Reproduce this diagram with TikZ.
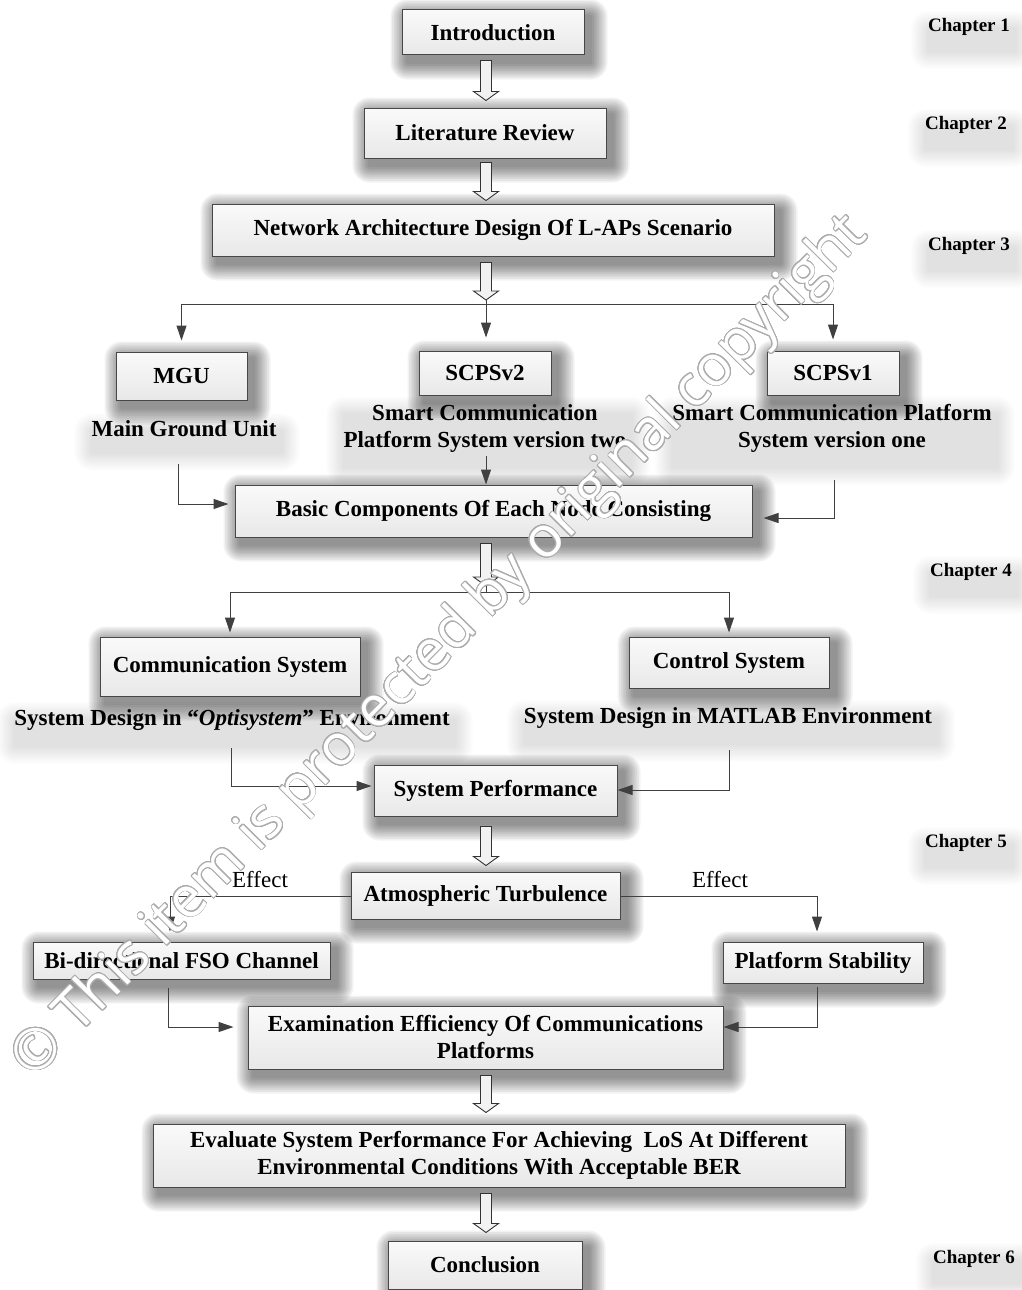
\documentclass[tikz,border=0pt]{standalone}
\usepackage{fontspec}
\setmainfont{Liberation Serif}
\newfontfamily\wmfont{Open Sans}
\usepackage[copies]{contour}
\contournumber{32}
\contourlength{0.8pt}
\usetikzlibrary{calc,arrows.meta}
\pgfdeclarelayer{bg}
\pgfdeclarelayer{shadow}
\pgfsetlayers{bg,shadow,main}
\newcommand{\mainfs}{\fontsize{23}{27}\selectfont}
\newcommand{\chapfs}{\fontsize{19}{22}\selectfont}
\newcommand{\harrow}[2]{%
  \draw[hollow] let \p1=(#1), \p2=(#2) in
   (\x1-5.5pt,\y1) -- (\x1+5.5pt,\y1) -- (\x1+5.5pt,\y2+9pt) -- (\x1+12.5pt,\y2+9pt)
   -- (\x1,\y2) -- (\x1-12.5pt,\y2+9pt) -- (\x1-5.5pt,\y2+9pt) -- cycle;}
% soft shadow: node, xshift, yshift, opacity per step, spread per step
\newcommand{\softshadow}[5]{%
  \foreach \k in {1,...,10} {%
    \pgfmathsetmacro\rr{\k*#5}%
    \fill[black, opacity=#4, rounded corners=\rr pt]
      ($(#1.north west)+(#2-\rr,#3-\rr)$) rectangle ($(#1.south east)+(#2+\rr,#3+\rr)$);
  }}
\begin{document}
\begin{tikzpicture}[x=1pt,y=-1pt,
  box/.style={draw=black!72, line width=1pt, top color=gray!4, bottom color=gray!18,
    inner sep=0pt, align=center, font=\mainfs\bfseries},
  lbl/.style={inner sep=2pt, align=center, font=\mainfs\bfseries},
  chap/.style={inner sep=2pt, font=\chapfs\bfseries},
  eff/.style={inner sep=1pt, font=\mainfs},
  conn/.style={draw=black!75, line width=1pt, -{Triangle[length=15pt,width=10pt]}},
  plain/.style={draw=black!75, line width=1pt},
  hollow/.style={draw=black!80, line width=0.9pt, fill=gray!10}]
\begin{pgfonlayer}{bg}
\fill[white] (0,0) rectangle (1021,1290);
\end{pgfonlayer}
\useasboundingbox (0,0) rectangle (1021,1290);
\coordinate (ax) at (486,0);

% boxes
\node[box, minimum width=182pt, minimum height=45pt] (intro) at (493,32.5) {Introduction};
\node[box, minimum width=242pt, minimum height=50pt] (lit) at (485,133) {Literature Review};
\node[box, minimum width=562pt, minimum height=52pt] (net) at (493,230) {Network Architecture Design Of L-APs Scenario};
\node[box, minimum width=131pt, minimum height=48pt] (mgu) at (181.5,376) {MGU};
\node[box, minimum width=132pt, minimum height=44pt] (scps2) at (485,373) {SCPSv2};
\node[box, minimum width=132pt, minimum height=44pt] (scps1) at (833,373) {SCPSv1};
\node[box, minimum width=517pt, minimum height=52pt] (basic) at (493.5,511) {Basic Components Of Each Node Consisting};
\node[box, minimum width=260pt, minimum height=59pt] (comm) at (230,666.5) {Communication System};
\node[box, minimum width=200pt, minimum height=51pt] (ctrl) at (729,662.5) {Control System};
\node[box, minimum width=243pt, minimum height=51pt] (perf) at (495.5,790.5) {System Performance};
\node[box, minimum width=269pt, minimum height=47pt] (atmos) at (485.5,895.5) {Atmospheric Turbulence};
\node[box, minimum width=297pt, minimum height=37pt] (fso) at (181.5,960.5) {Bi-directional FSO Channel};
\node[box, minimum width=200pt, minimum height=41pt] (stab) at (823,962.5) {Platform Stability};
\node[box, minimum width=475pt, minimum height=63pt] (exam) at (485.5,1037.5) {Examination Efficiency Of Communications\\Platforms};
\node[box, minimum width=692pt, minimum height=63pt] (eval) at (499,1155.5) {Evaluate System Performance For Achieving\ \ LoS At Different\\Environmental Conditions With Acceptable BER};
\node[box, minimum width=194pt, minimum height=48pt] (concl) at (485,1265) {Conclusion};

% labels
\node[lbl] (mgutxt) at (184,429) {Main Ground Unit};
\node[lbl] (scps2txt) at (485,428) {Smart Communication\\Platform System version two};
\node[lbl] (scps1txt) at (832,428) {Smart Communication Platform\\System version one};
\node[lbl] (commtxt) at (232,720) {System Design in \textquotedblleft\textit{Optisystem}\textquotedblright\ Environment};
\node[lbl] (ctrltxt) at (728,718) {System Design in MATLAB Environment};
\node[eff] (eff1) at (260,880) {Effect};
\node[eff] (eff2) at (720,880) {Effect};

% chapters
\node[chap] (ch1) at (969,27) {Chapter 1};
\node[chap] (ch2) at (966,125) {Chapter 2};
\node[chap] (ch3) at (969,246) {Chapter 3};
\node[chap] (ch4) at (971,572) {Chapter 4};
\node[chap] (ch5) at (966,843) {Chapter 5};
\node[chap] (ch6) at (974,1259) {Chapter 6};

% shadows
\begin{pgfonlayer}{shadow}
\foreach \n in {intro,lit,net,mgu,scps2,scps1,basic,comm,ctrl,perf,atmos,fso,stab,exam,eval,concl}
  {\softshadow{\n}{6}{7}{0.05}{1.7}}
\foreach \n in {mgutxt,scps2txt,scps1txt,commtxt,ctrltxt,ch1,ch2,ch3,ch4,ch5,ch6}
  {\softshadow{\n}{3}{13}{0.013}{1.8}}
\end{pgfonlayer}

% hollow arrows
\coordinate (b1tip) at (486,300);
\coordinate (b2tip) at (486,586);
\harrow{$(intro.south -| ax)+(0,5)$}{$(lit.north -| ax)+(0,-7)$}
\harrow{$(lit.south -| ax)+(0,4)$}{$(net.north -| ax)+(0,-3)$}
\harrow{$(net.south -| ax)+(0,6)$}{b1tip}
\harrow{$(basic.south -| ax)+(0,6)$}{b2tip}
\harrow{$(perf.south -| ax)+(0,10)$}{$(atmos.north -| ax)+(0,-6)$}
\harrow{$(exam.south -| ax)+(0,6)$}{$(eval.north -| ax)+(0,-11)$}
\harrow{$(eval.south -| ax)+(0,6)$}{$(concl.north -| ax)+(0,-8)$}

% chapter 3 branches
\coordinate (b1) at (486,304);
\draw[plain] (b1 -| mgu) -- (b1 -| scps1);
\draw[conn, shorten >=11pt] (b1 -| mgu) -- (mgu.north);
\draw[conn, shorten >=11pt] (b1 -| scps1) -- (scps1.north);
\draw[conn, shorten >=13pt] (b1tip) -- (b1tip |- scps2.north);

\coordinate (m1) at (178,464);
\coordinate (m2) at (178,504);
\draw[conn, shorten >=6pt] (m1) -- (m2) -- (m2 -| basic.west);
\coordinate (s2) at (486,456);
\draw[conn] (s2) -- (s2 |- basic.north);
\coordinate (s1a) at (834,480);
\coordinate (s1b) at (834,518);
\draw[conn, shorten >=11pt] (s1a) -- (s1b) -- (s1b -| basic.east);

% chapter 4 branches
\coordinate (b2) at (486,592);
\draw[plain] (b2tip) -- (b2);
\draw[plain] (b2 -| comm) -- (b2 -| ctrl);
\draw[conn, shorten >=4pt] (b2 -| comm) -- (comm.north);
\draw[conn, shorten >=4pt] (b2 -| ctrl) -- (ctrl.north);

\coordinate (c1a) at (231,748);
\coordinate (c1b) at (231,786);
\draw[conn, shorten >=2pt] (c1a) -- (c1b) -- (c1b -| perf.west);
\coordinate (c2a) at (729,750);
\coordinate (c2b) at (729,790);
\draw[conn] (c2a) -- (c2b) -- (c2b -| perf.east);

% chapter 5 branches
\coordinate (e1) at (170,896);
\coordinate (e2) at (817,896);
\draw[conn, shorten >=10pt] (e1 -| atmos.west) -- (e1) -- (e1 |- fso.north);
\draw[conn, shorten >=10pt] (e2 -| atmos.east) -- (e2) -- (e2 |- stab.north);
\coordinate (f1a) at (168,988);
\coordinate (f1b) at (168,1027);
\draw[conn, shorten >=14pt] (f1a) -- (f1b) -- (f1b -| exam.west);
\coordinate (p1a) at (817,987);
\coordinate (p1b) at (817,1027);
\draw[conn] (p1a) -- (p1b) -- (p1b -| exam.east);

% watermark
\node[rotate=45.3, inner sep=0pt, font=\wmfont\fontsize{57}{57}\selectfont] (wm) at (441,648)
  {\color{white}\contour{gray!65}{© This item is protected by original copyright}};
\end{tikzpicture}
\end{document}
